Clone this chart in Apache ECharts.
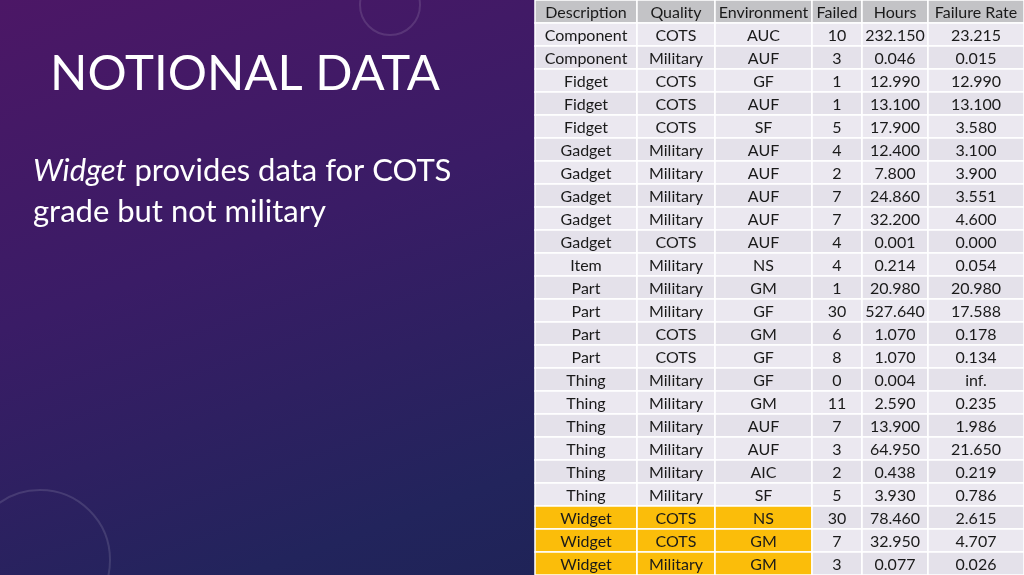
<!DOCTYPE html>
<html style="height: 100%">
<head>
    <meta charset="utf-8">
</head>
<body style="height: 100%; margin: 0; background: linear-gradient(160deg, #4c1766 0%, #3a1c66 35%, #22245c 70%, #1a2250 100%);">
    <div id="container" style="height: 100%"></div>
    <script src="https://cdn.jsdelivr.net/npm/echarts@6/dist/echarts.min.js"></script>
    <script type="text/javascript">

        var headers = ['Description', 'Quality', 'Environment', 'Failed', 'Hours', 'Failure Rate'];
        var description = ['Component', 'Component', 'Fidget', 'Fidget', 'Fidget', 'Gadget', 'Gadget', 'Gadget', 'Gadget', 'Gadget',
            'Item', 'Part', 'Part', 'Part', 'Part', 'Thing', 'Thing', 'Thing', 'Thing', 'Thing', 'Thing', 'Widget', 'Widget', 'Widget'];
        var quality = ['COTS', 'Military', 'COTS', 'COTS', 'COTS', 'Military', 'Military', 'Military', 'Military', 'COTS',
            'Military', 'Military', 'Military', 'COTS', 'COTS', 'Military', 'Military', 'Military', 'Military', 'Military', 'Military', 'COTS', 'COTS', 'Military'];
        var environment = ['AUC', 'AUF', 'GF', 'AUF', 'SF', 'AUF', 'AUF', 'AUF', 'AUF', 'AUF',
            'NS', 'GM', 'GF', 'GM', 'GF', 'GF', 'GM', 'AUF', 'AUF', 'AIC', 'SF', 'NS', 'GM', 'GM'];
        var failed = ['10', '3', '1', '1', '5', '4', '2', '7', '7', '4', '4', '1', '30', '6', '8', '0', '11', '7', '3', '2', '5', '30', '7', '3'];
        var hours = ['232.150', '0.046', '12.990', '13.100', '17.900', '12.400', '7.800', '24.860', '32.200', '0.001',
            '0.214', '20.980', '527.640', '1.070', '1.070', '0.004', '2.590', '13.900', '64.950', '0.438', '3.930', '78.460', '32.950', '0.077'];
        var failureRate = ['23.215', '0.015', '12.990', '13.100', '3.580', '3.100', '3.900', '3.551', '4.600', '0.000',
            '0.054', '20.980', '17.588', '0.178', '0.134', 'inf.', '0.235', '1.986', '21.650', '0.219', '0.786', '2.615', '4.707', '0.026'];
        var highlighted = ['Widget'];

        // column widths in px-like units
        var colWidths = [102, 78, 97, 50, 66, 96];
        var colStarts = [];
        var acc = 0;
        colWidths.forEach(function (w) { colStarts.push(acc); acc += w; });
        var totalW = acc;

        var columns = [description, quality, environment, failed, hours, failureRate];
        var rowNames = ['header'];
        for (var i = 0; i < description.length; i++) rowNames.push('r' + i);

        var cells = [];
        for (var r = 0; r < rowNames.length; r++) {
            for (var c = 0; c < columns.length; c++) {
                var text = r === 0 ? headers[c] : columns[c][r - 1];
                cells.push([colStarts[c], r, c, text]);
            }
        }

        var dom = document.getElementById("container");
        var myChart = echarts.init(dom);

        function renderCell(params, api) {
            var r = api.value(1);
            var c = api.value(2);
            var p0 = api.coord([api.value(0), r]);
            var p1 = api.coord([api.value(0) + colWidths[c], r]);
            var h = api.size([0, 1])[1];
            var fill;
            if (r === 0) fill = '#c3c3c6';
            else if (c < 3 && highlighted.indexOf(description[r - 1]) >= 0) fill = '#fbbd0a';
            else fill = r % 2 ? '#ebe8f0' : '#e4e1ea';
            return {
                type: 'group',
                children: [{
                    type: 'rect',
                    shape: { x: p0[0], y: p0[1] - h / 2, width: p1[0] - p0[0], height: h },
                    style: { fill: fill, stroke: '#ffffff', lineWidth: 1.5 }
                }, {
                    type: 'text',
                    style: {
                        text: api.value(3),
                        x: (p0[0] + p1[0]) / 2,
                        y: p0[1] + 1,
                        align: 'center',
                        verticalAlign: 'middle',
                        fill: '#1a1a1a',
                        font: '16px Lato'
                    }
                }]
            };
        }

        var option = {
            backgroundColor: 'transparent',
            animation: false,
            grid: { left: 535, right: 0, top: 0, bottom: 0 },
            xAxis: { type: 'value', min: 0, max: totalW, show: false },
            yAxis: { type: 'category', data: rowNames, inverse: true, show: false },
            graphic: [{
                type: 'text', left: 50, top: 50,
                style: { text: 'NOTIONAL DATA', fill: '#ffffff', font: '49px Lato' }
            }, {
                type: 'text', left: 33, top: 150,
                style: {
                    text: '{i|Widget} provides data for COTS\ngrade but not military',
                    fill: '#ffffff', font: '31px Lato', lineHeight: 41,
                    rich: { i: { fontStyle: 'italic', fontSize: 31, fontFamily: 'Lato', fill: '#ffffff' } }
                }
            }, {
                type: 'circle', shape: { cx: 390, cy: 5, r: 30 },
                style: { fill: 'none', stroke: 'rgba(255,255,255,0.12)', lineWidth: 2 }
            }, {
                type: 'circle', shape: { cx: 40, cy: 560, r: 70 },
                style: { fill: 'none', stroke: 'rgba(255,255,255,0.12)', lineWidth: 2 }
            }],
            series: [{
                type: 'custom',
                renderItem: renderCell,
                encode: { x: 0, y: 1 },
                data: cells
            }]
        };
        myChart.setOption(option);
    </script>
</body>
</html>
